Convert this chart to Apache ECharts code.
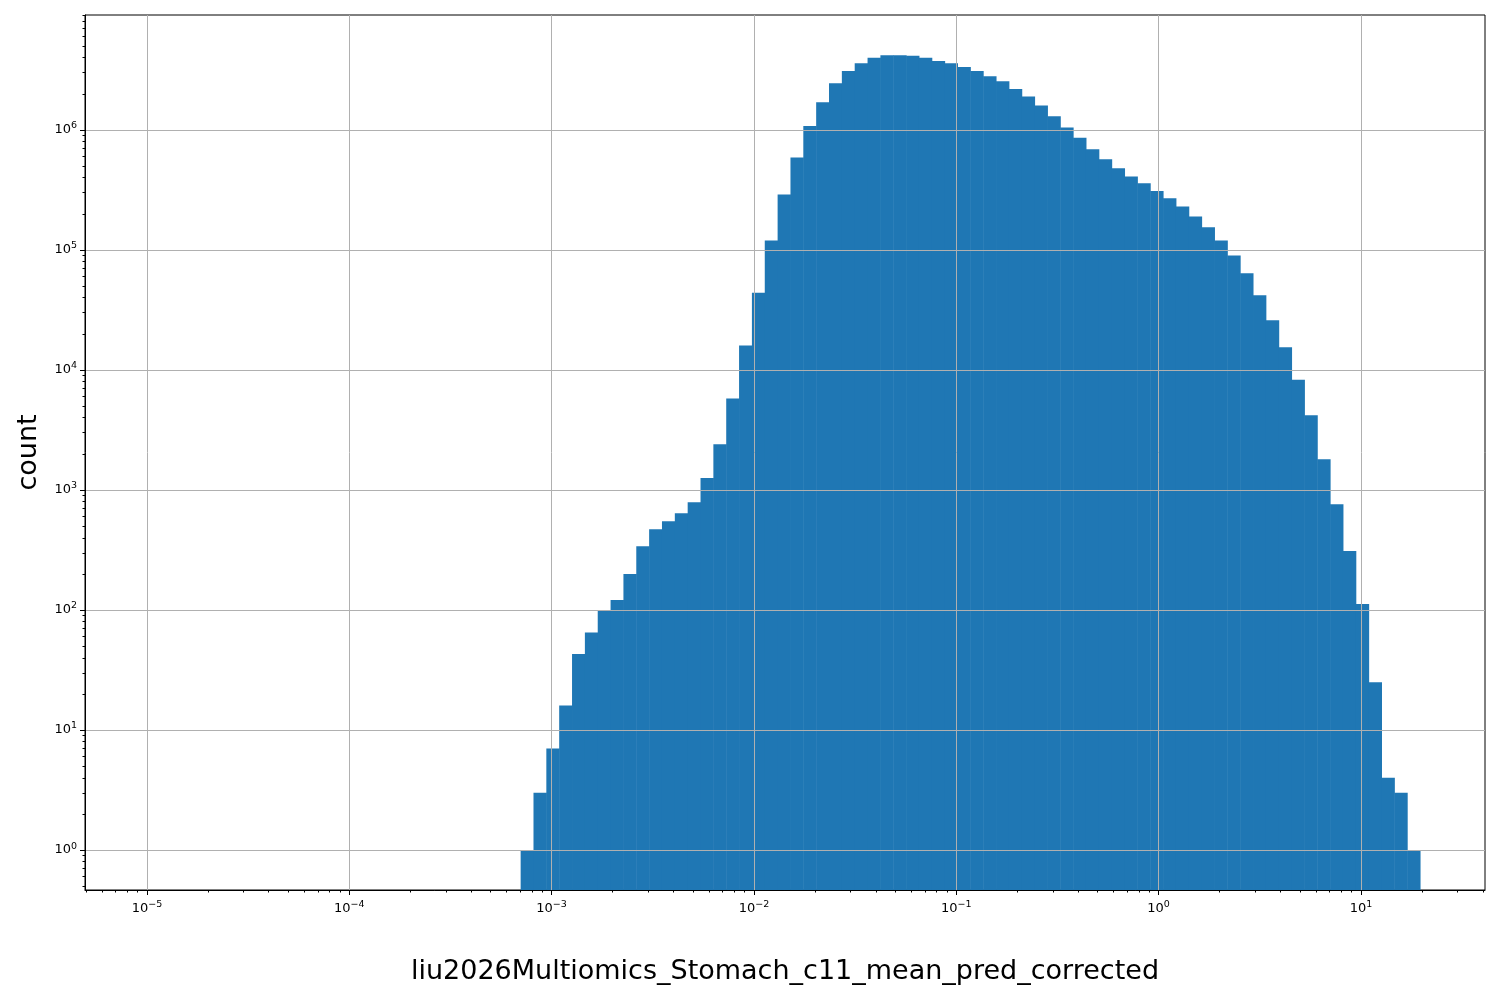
<!DOCTYPE html>
<html><head><meta charset="utf-8">
<script src="https://cdn.jsdelivr.net/npm/echarts@6/dist/echarts.min.js"></script>
<style>html,body{margin:0;padding:0;background:#fff}#c{width:1500px;height:1000px}</style>
</head><body><div id="c"></div>
<script>
// histogram bins: log10 of first edge and bin width (in decades)
const firstEdgeLog = -3.153;
const binWidthLog = 0.0635;
const counts = [1,3,7,16,43,65,100,121,200,340,470,550,640,790,1260,2400,5800,16000,44000,120000,
290000,590000,1080000,1700000,2450000,3100000,3600000,4000000,4200000,4200000,4150000,4000000,3750000,3600000,
3350000,3100000,2800000,2550000,2200000,1900000,1600000,1300000,1050000,860000,690000,570000,480000,410000,
360000,310000,270000,230000,190000,155000,120000,90000,64000,42000,26000,15500,8300,4200,1800,760,310,112,25,4,3,1];
const xTickExps = [-5,-4,-3,-2,-1,0,1];
const yTickExps = [0,1,2,3,4,5,6];
const xLabel = 'liu2026Multiomics_Stomach_c11_mean_pred_corrected';
const yLabel = 'count';

const XMIN=-5.306, XMAX=1.613, YMIN=-0.333, YMAX=6.958;
const data = counts.map((c,i)=>[firstEdgeLog + i*binWidthLog, firstEdgeLog + (i+1)*binWidthLog, Math.log10(c)]);
function minors(lo,hi){const r=[];for(let e=Math.floor(lo);e<=Math.ceil(hi);e++)for(let k=2;k<=9;k++){const v=e+Math.log10(k);if(v>=lo&&v<=hi)r.push(v);}return r;}
function fmt(v){const e=Math.round(v);return '{b|10}{s|'+(e<0?'−':'')+Math.abs(e)+'}';}
const rich = {b:{fontSize:13,color:'#000',fontFamily:'DejaVu Sans'},s:{fontSize:9.5,color:'#000',fontFamily:'DejaVu Sans',padding:[0,0,8,0]}};
const chart = echarts.init(document.getElementById('c'));
chart.setOption({
  animation:false,
  grid:{left:85,right:15,top:15,bottom:110,show:true,borderColor:'#000',borderWidth:1},
  xAxis:[{type:'value',min:XMIN,max:XMAX,z:3,
    name:xLabel,nameLocation:'middle',nameGap:68,nameTextStyle:{fontSize:27,color:'#000',fontFamily:'DejaVu Sans'},
    axisLine:{onZero:false,lineStyle:{color:'#000'}},axisTick:{length:5,lineStyle:{color:'#000'},customValues:xTickExps},
    axisLabel:{formatter:fmt,rich:rich,margin:10,customValues:xTickExps},
    splitLine:{show:true,lineStyle:{color:'#b0b0b0',width:1}}},
   {type:'value',min:XMIN,max:XMAX,position:'bottom',
    axisLine:{show:false,onZero:false},axisTick:{length:2.5,lineStyle:{color:'#000'},customValues:minors(XMIN,XMAX)},
    axisLabel:{show:false,customValues:minors(XMIN,XMAX)},splitLine:{show:false}}],
  yAxis:[{type:'value',min:YMIN,max:YMAX,z:3,
    name:yLabel,nameLocation:'middle',nameGap:43,nameTextStyle:{fontSize:27,color:'#000',fontFamily:'DejaVu Sans'},
    axisLine:{onZero:false,lineStyle:{color:'#000'}},axisTick:{length:5,lineStyle:{color:'#000'},customValues:yTickExps},
    axisLabel:{formatter:fmt,rich:rich,margin:8,customValues:yTickExps},
    splitLine:{show:true,lineStyle:{color:'#b0b0b0',width:1}}},
   {type:'value',min:YMIN,max:YMAX,position:'left',
    axisLine:{show:false,onZero:false},axisTick:{length:2.5,lineStyle:{color:'#000'},customValues:minors(YMIN,YMAX)},
    axisLabel:{show:false,customValues:minors(YMIN,YMAX)},splitLine:{show:false}}],
  series:[{type:'custom',data:data,clip:true,z:1,
    renderItem:function(params,api){
      const p0=api.coord([api.value(0),api.value(2)]);
      const p1=api.coord([api.value(1),api.value(2)]);
      const bottom=params.coordSys.y+params.coordSys.height;
      return {type:'rect',shape:{x:p0[0],y:p0[1],width:p1[0]-p0[0]+0.5,height:bottom-p0[1]},
        style:{fill:'#1f77b4'}};
    },encode:{x:[0,1],y:2}}]
});
</script></body></html>
